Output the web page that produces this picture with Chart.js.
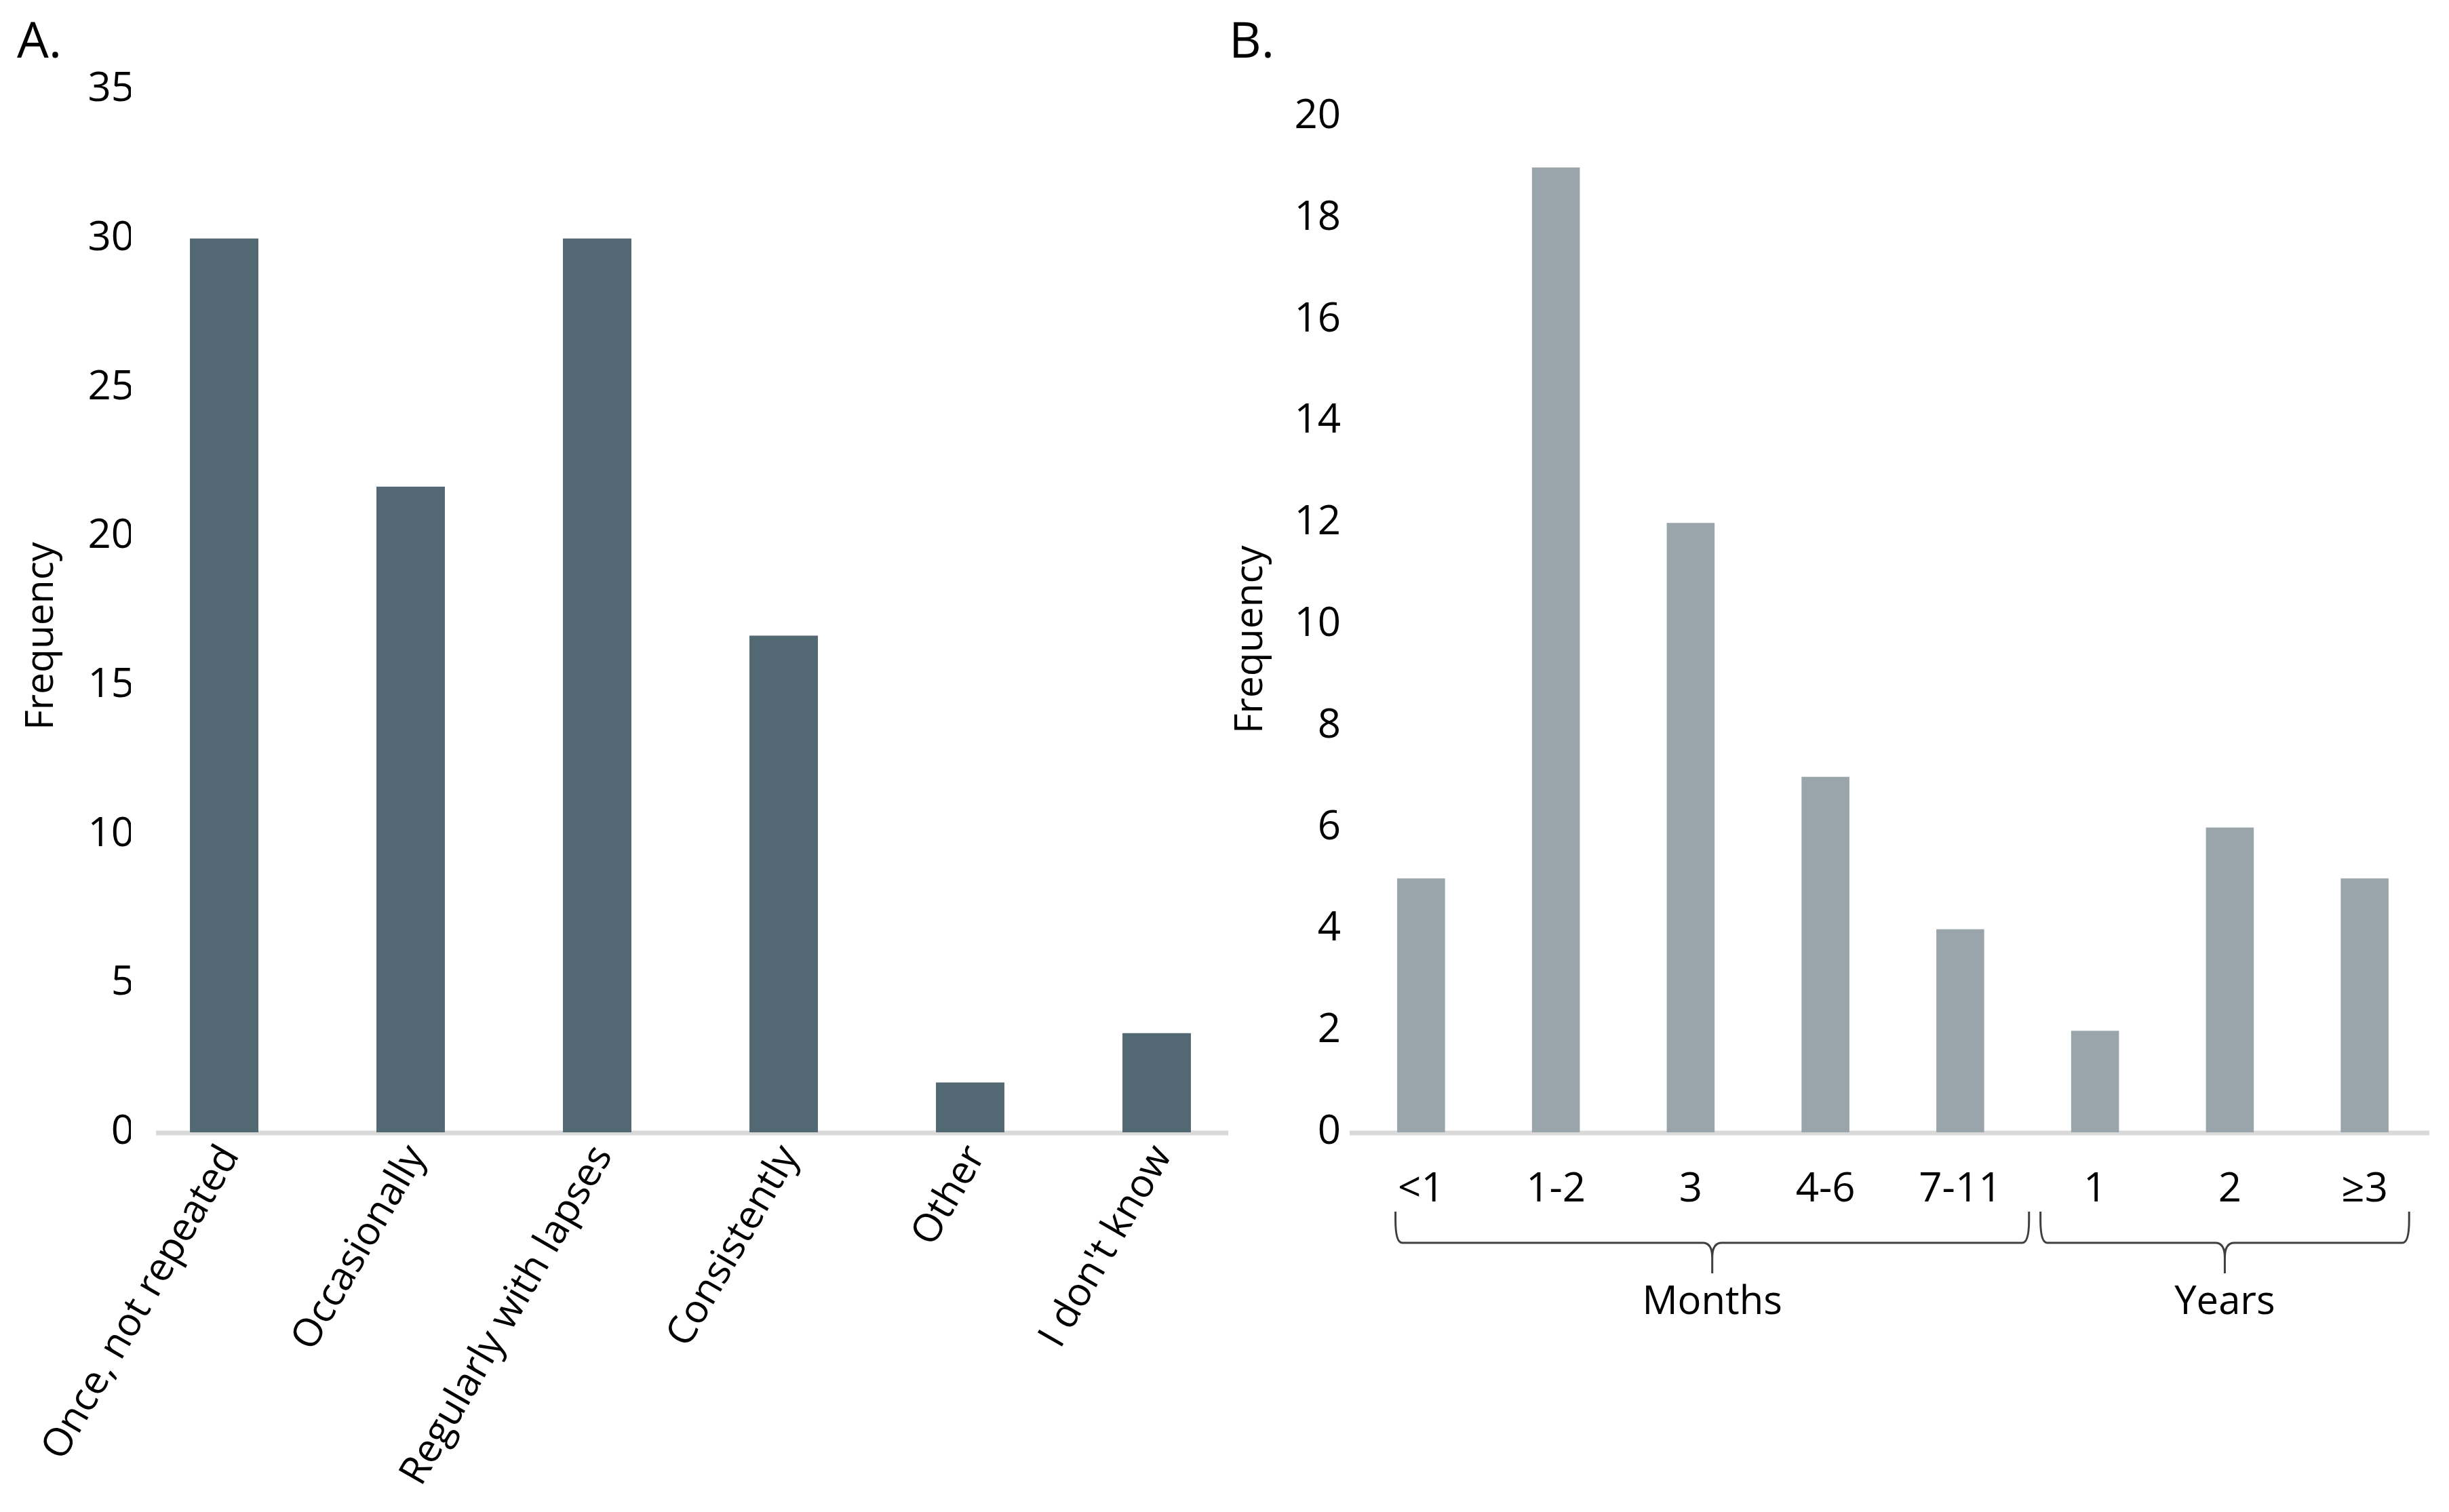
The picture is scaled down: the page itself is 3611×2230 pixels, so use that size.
<!DOCTYPE html>
<html lang="en">
<head>
  <meta charset="UTF-8" />
  <title>Frequency charts A and B</title>
  <script src="https://cdn.jsdelivr.net/npm/chart.js@4.4.0/dist/chart.umd.min.js"></script>
  <style>
    html, body { margin: 0; padding: 0; background: #fff; }
    #page { position: relative; width: 3611px; height: 2230px; overflow: hidden; }
    .panel { position: absolute; top: 0; }
    #panelA { left: 0; }
    #panelB { left: 1780px; }
  </style>
</head>
<body>
  <div id="page">
    <div class="panel" id="panelA"><canvas id="chartA" width="1850" height="2230"></canvas></div>
    <div class="panel" id="panelB"><canvas id="chartB" width="1831" height="2230"></canvas></div>
  </div>

  <script>
    // Panel A: how often (percent of 60 respondents)
    const patternLabels = ['Once, not repeated', 'Occasionally', 'Regularly with lapses', 'Consistently', 'Other', "I don't know"];
    const patternValues = [30, 21.67, 30, 16.67, 1.67, 3.33];

    // Panel B: duration
    const durationLabels = ['<1', '1-2', '3', '4-6', '7-11', '1', '2', '≥3'];
    const durationValues = [5, 19, 12, 7, 4, 2, 6, 5];

    // groups under the duration axis (category index ranges)
    const groupNames = ['Months', 'Years'];
    const groupFrom = [0, 5];
    const groupTo = [4, 7];

    Chart.defaults.font.family = "'Open Sans', 'Noto Sans', sans-serif";
    Chart.defaults.color = '#000';

    // trailing no-break spaces nudge the rotated axis title down a little
    const nudge = n => '\u00a0'.repeat(n);

    // light grey baseline under the bars
    const baseline = {
      id: 'baseline',
      beforeDatasetsDraw(chart, args, opts) {
        const { ctx, scales: { x, y } } = chart;
        const w = x.getPixelForValue(1) - x.getPixelForValue(0);
        const y0 = y.getPixelForValue(0) + 1;
        ctx.save();
        ctx.strokeStyle = opts.color;
        ctx.lineWidth = opts.width;
        ctx.beginPath();
        ctx.moveTo(x.left + opts.insetLeft * w, y0);
        ctx.lineTo(x.right - opts.insetRight * w, y0);
        ctx.stroke();
        ctx.restore();
      }
    };

    // "A." / "B." panel tags
    const panelTag = {
      id: 'panelTag',
      afterDraw(chart, args, opts) {
        const { ctx } = chart;
        ctx.save();
        ctx.font = opts.size + "px 'Open Sans', 'Noto Sans', sans-serif";
        ctx.fillStyle = '#000';
        ctx.textBaseline = 'alphabetic';
        ctx.textAlign = 'left';
        ctx.fillText(opts.text, opts.x, opts.y);
        ctx.restore();
      }
    };

    // curly braces with group names under the x axis
    const braces = {
      id: 'braces',
      afterDraw(chart, args, opts) {
        const { ctx, scales: { x } } = chart;
        const base = chart.chartArea.bottom;
        const top = base + 117, line = base + 163, tip = base + 208;
        ctx.save();
        ctx.strokeStyle = '#3f3f3f';
        ctx.lineWidth = 3;
        groupNames.forEach((name, i) => {
          const x0 = x.getPixelForValue(groupFrom[i] + opts.startShift[i]);
          const x1 = x.getPixelForValue(groupTo[i] + opts.endShift[i]);
          const xm = (x0 + x1) / 2;
          ctx.beginPath();
          ctx.moveTo(x0, top);
          ctx.lineTo(x0, line - 34);
          ctx.quadraticCurveTo(x0, line, x0 + 10, line);
          ctx.lineTo(xm - 14, line);
          ctx.quadraticCurveTo(xm, line, xm, line + 22);
          ctx.lineTo(xm, tip);
          ctx.moveTo(xm, line + 22);
          ctx.quadraticCurveTo(xm, line, xm + 14, line);
          ctx.lineTo(x1 - 10, line);
          ctx.quadraticCurveTo(x1, line, x1, line - 34);
          ctx.lineTo(x1, top);
          ctx.stroke();

          ctx.fillStyle = '#000';
          ctx.font = "58px 'Open Sans', 'Noto Sans', sans-serif";
          ctx.textAlign = 'center';
          ctx.textBaseline = 'alphabetic';
          ctx.fillText(name, xm, base + 268);
        });
        ctx.restore();
      }
    };

    new Chart(document.getElementById('chartA'), {
      type: 'bar',
      data: {
        labels: patternLabels,
        datasets: [{
          data: patternValues,
          backgroundColor: '#526873',
          barPercentage: 0.367,
          categoryPercentage: 1.0
        }]
      },
      options: {
        responsive: false,
        animation: false,
        layout: { padding: { top: 132, right: 7, left: 0, bottom: 0 } },
        plugins: {
          legend: { display: false },
          tooltip: { enabled: false },
          baseline: { color: '#d9d9d9', width: 7, insetLeft: 0.135, insetRight: 0.116 },
          panelTag: { text: 'A.', x: 25, y: 85, size: 74 }
        },
        scales: {
          x: {
            grid: { display: false, drawTicks: false },
            border: { display: false },
            ticks: { autoSkip: false, minRotation: 60, maxRotation: 60, padding: 8, labelOffset: 9, font: { size: 58 } },
            afterFit: s => { s.height = 560; }
          },
          y: {
            min: 0,
            max: 35,
            grid: { display: false, drawTicks: false },
            border: { display: false },
            ticks: { stepSize: 5, padding: -5, font: { size: 60 } },
            title: { display: true, text: 'Frequency' + nudge(5), font: { size: 57 }, padding: { top: 28, bottom: 0 } },
            afterFit: s => { s.width = 193; }
          }
        }
      },
      plugins: [baseline, panelTag]
    });

    new Chart(document.getElementById('chartB'), {
      type: 'bar',
      data: {
        labels: durationLabels,
        datasets: [{
          data: durationValues,
          backgroundColor: '#99a5aa',
          barPercentage: 0.355,
          categoryPercentage: 1.0
        }]
      },
      options: {
        responsive: false,
        animation: false,
        layout: { padding: { top: 172, right: 25, left: 0, bottom: 0 } },
        plugins: {
          legend: { display: false },
          tooltip: { enabled: false },
          baseline: { color: '#d9d9d9', width: 7, insetLeft: -0.03, insetRight: 0.02 },
          panelTag: { text: 'B.', x: 32, y: 85, size: 74 },
          braces: { startShift: [-0.19, -0.405], endShift: [0.51, 0.33] }
        },
        scales: {
          x: {
            grid: { display: false, drawTicks: false },
            border: { display: false },
            ticks: { autoSkip: false, minRotation: 0, maxRotation: 0, padding: 49, font: { size: 60 } },
            afterFit: s => { s.height = 560; }
          },
          y: {
            min: 0,
            max: 20,
            grid: { display: false, drawTicks: false },
            border: { display: false },
            ticks: { stepSize: 2, padding: 19, font: { size: 60 } },
            title: { display: true, text: 'Frequency' + nudge(3), font: { size: 57 }, padding: { top: 31, bottom: 0 } },
            afterFit: s => { s.width = 216; }
          }
        }
      },
      plugins: [baseline, panelTag, braces]
    });
  </script>
</body>
</html>
